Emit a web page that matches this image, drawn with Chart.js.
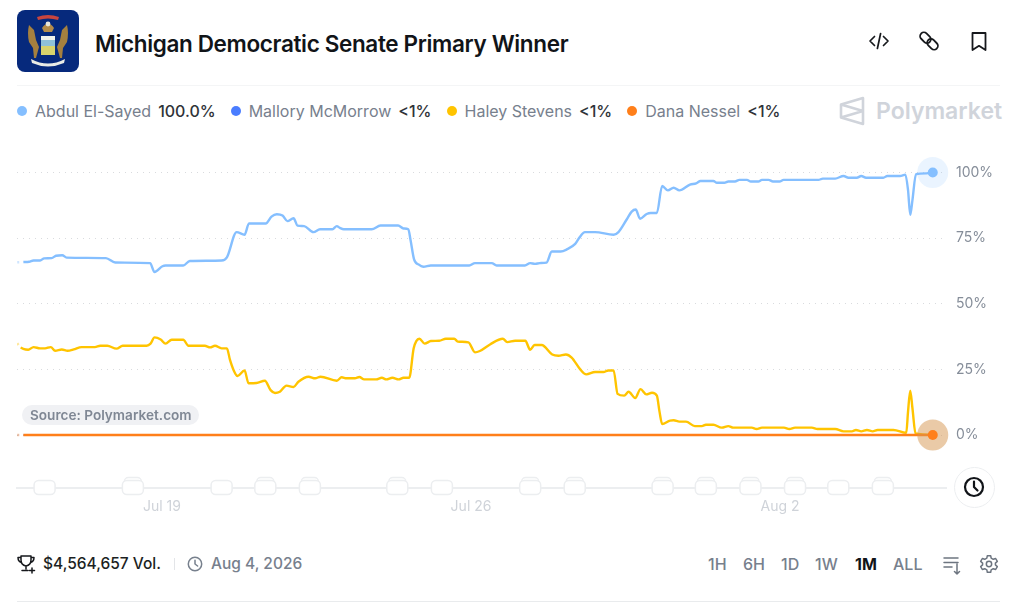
<!DOCTYPE html>
<html>
<head>
<meta charset="utf-8">
<title>Michigan Democratic Senate Primary Winner</title>
<script src="https://cdn.jsdelivr.net/npm/chart.js@4"></script>
<style>
html,body{margin:0;padding:0;background:#fff;}
body{width:1023px;height:603px;position:relative;overflow:hidden;font-family:Inter,sans-serif;}
.abs{position:absolute;white-space:nowrap;}
#title{left:95px;top:29px;font-size:22.5px;line-height:30px;font-weight:600;color:#111418;letter-spacing:-0.35px;}
#legend{left:17px;top:100px;height:22px;display:flex;align-items:center;font-size:16px;}
.item{display:flex;align-items:center;margin-right:15px;}
.dot{width:10px;height:10px;border-radius:50%;margin-right:8px;}
.name{color:#77808d;margin-right:7px;}
.val{color:#2f3338;font-weight:500;}
#brand{left:876px;top:95px;font-size:23px;line-height:32px;font-weight:600;color:#d0d4db;}
#source{left:22px;top:405px;height:20px;line-height:20px;padding:0 7px 0 8px;border-radius:10px;background:#f0f1f4;color:#7f8794;font-size:13.6px;font-weight:600;}
#clockBtn{left:954px;top:467px;width:39px;height:39px;border:1px solid #eceef0;border-radius:50%;background:#fff;box-sizing:content-box;}
.rule{left:17px;width:983px;height:1px;}
.foot{top:553px;line-height:22px;font-size:15.5px;}
.range{top:553px;line-height:22px;font-size:16px;font-weight:500;color:#77808d;}
canvas{position:absolute;left:0;top:130px;}
svg{position:absolute;}
</style>
</head>
<body>
<svg style="left:17px;top:10px" width="62" height="62" viewBox="0 0 62 62">
  <rect width="62" height="62" rx="8" fill="#06297c"/>
  <path d="M20 7q11-4 22 0l-1 3q-10-3-20 0z" fill="#c8453f"/>
  <path d="M25 18q6-9 12 0l-2 4h-8z" fill="#b58c4a"/>
  <circle cx="31" cy="14" r="2.4" fill="#e9e6da"/>
  <path d="M12 15l5 5 2 10 3 7-3 11h-2l-1-10-4-6q-2-9 0-17z" fill="#a5803f"/>
  <path d="M50 15l-5 5-2 10-3 7 3 11h2l1-10 4-6q2-9 0-17z" fill="#a5803f"/>
  <rect x="24" y="26" width="14" height="19" rx="2" fill="#8fc1d8"/>
  <rect x="24" y="36" width="14" height="9" fill="#d8d36c"/>
  <rect x="24" y="26" width="14" height="4" fill="#f1f2ec"/>
  <path d="M14 49q17 9 34 0l-1 4q-16 7-32 0z" fill="#e9ebe6"/>
</svg>
<div id="title" class="abs">Michigan Democratic Senate Primary Winner</div>

<svg style="left:868px;top:30px" width="22" height="22" viewBox="0 0 22 22" fill="none" stroke="#16181c" stroke-width="1.7" stroke-linecap="round" stroke-linejoin="round">
  <path d="M6.5 6.5 2 11l4.5 4.5M15.5 6.5 20 11l-4.5 4.5M12.6 3.5 9.4 18.5"/>
</svg>
<svg style="left:918px;top:30px" width="22" height="22" viewBox="0 0 22 22" fill="none" stroke="#16181c" stroke-width="1.8">
  <rect x="1.500" y="4" width="12" height="7.500" rx="3.700" transform="rotate(45 7.500 7.700)"/>
  <rect x="8.500" y="10.500" width="12" height="7.500" rx="3.700" transform="rotate(45 14.500 14.300)"/>
</svg>
<svg style="left:968px;top:30px" width="22" height="22" viewBox="0 0 22 22" fill="none" stroke="#16181c" stroke-width="1.8" stroke-linejoin="round">
  <path d="M4.5 3h13v17L11 15.800 4.500 20z"/>
</svg>
<div class="abs rule" style="top:85px;background:#f4f5f6"></div>

<div id="legend" class="abs"></div>
<svg style="left:839px;top:96px" width="26" height="30" viewBox="0 0 26 30" fill="none" stroke="#d0d4db" stroke-width="2.6" stroke-linejoin="round">
  <path d="M24 2v26L2 21.500V8.500zM2 8.500 24 15 2 21.500"/>
</svg>
<div id="brand" class="abs">Polymarket</div>

<canvas id="chart" width="1023" height="390"></canvas>

<div id="source" class="abs">Source: Polymarket.com</div>
<div id="clockBtn" class="abs"></div>
<svg style="left:962px;top:475px" width="24" height="24" viewBox="0 0 24 24" fill="none" stroke="#111418" stroke-width="2.2" stroke-linecap="round" stroke-linejoin="round">
  <circle cx="12" cy="12" r="9"/><path d="M12 6.500V12l3.500 3.500"/>
</svg>

<svg style="left:17px;top:554px" width="19" height="20" viewBox="0 0 19 20" fill="none" stroke="#16181c" stroke-width="1.5" stroke-linecap="round" stroke-linejoin="round">
  <path d="M4 2h10v4q0 5-5 6-5-1-5-6zM4 3.500H1q0 4 3.500 5M14 3.500h3q0 4-3.500 5M9 12v3M5 16.500h6M15 14v5M12.500 16.500h5"/>
</svg>
<div class="abs foot" style="left:43px;color:#1c1f23;font-weight:500">$4,564,657 Vol.</div>
<div class="abs" style="left:174px;top:558px;width:1px;height:12px;background:#e3e5e8"></div>
<svg style="left:187px;top:556px" width="16" height="16" viewBox="0 0 16 16" fill="none" stroke="#77808d" stroke-width="1.5" stroke-linecap="round" stroke-linejoin="round">
  <circle cx="8" cy="8" r="6.700"/><path d="M8 4.200V8l2.600 2"/>
</svg>
<div class="abs foot" style="left:211px;color:#77808d;font-weight:500">Aug 4, 2026</div>

<div class="abs range" style="left:708px">1H</div>
<div class="abs range" style="left:743px">6H</div>
<div class="abs range" style="left:781px">1D</div>
<div class="abs range" style="left:815px">1W</div>
<div class="abs range" style="left:855px;color:#111418;font-weight:700">1M</div>
<div class="abs range" style="left:893px">ALL</div>
<svg style="left:942px;top:555px" width="20" height="20" viewBox="0 0 20 20" fill="none" stroke="#6d7580" stroke-width="1.500" stroke-linecap="round" stroke-linejoin="round">
  <path d="M2 3h14M2 7.500h14M2 12h8M15 9v10M12.500 16.500 15 19l2.500-2.500"/>
</svg>
<svg style="left:979px;top:554px" width="20" height="20" viewBox="0 0 24 24" fill="none" stroke="#6d7580" stroke-width="1.800" stroke-linecap="round" stroke-linejoin="round">
  <circle cx="12" cy="12" r="3.200"/>
  <path d="M10 2h4l.6 3 2.500 1.400 2.900-1 2 3.500-2.300 2v2.200l2.300 2-2 3.500-2.900-1-2.500 1.400-.6 3h-4l-.6-3-2.500-1.400-2.900 1-2-3.500 2.300-2v-2.200l-2.300-2 2-3.500 2.900 1L9.400 5z"/>
</svg>
<div class="abs rule" style="top:601px;background:#e9ebed"></div>

<script>
// days counted from Jul 19, values in percent
const sayedDays=[-3.28,-3.14,-3.01,-2.91,-2.76,-2.67,-2.50,-2.40,-2.26,-2.16,-1.27,-1.06,-0.27,-0.17,0.01,0.08,0.48,0.63,1.35,1.47,1.69,1.87,1.97,2.35,2.48,2.60,2.73,2.84,2.98,3.07,3.22,3.43,3.58,3.86,3.96,4.03,4.12,4.75,4.95,5.35,5.47,5.58,5.63,5.71,5.81,5.92,6.09,6.96,7.09,7.47,7.58,8.22,8.34,8.45,8.56,8.71,8.83,9.03,9.17,9.36,9.46,9.58,9.81,10.23,10.34,10.53,10.64,10.73,10.83,10.98,11.07,11.21,11.33,11.46,11.59,11.72,11.96,12.10,12.20,12.49,12.57,12.74,12.83,12.98,13.08,13.25,13.34,13.51,13.59,13.74,13.84,13.99,14.08,14.87,14.97,15.25,15.44,15.55,15.74,15.84,15.95,16.34,16.43,16.72,16.84,16.90,16.95,17.00,17.08,17.32,17.46];
const sayedValues=[65.8,65.9,66.0,66.5,66.5,67.3,67.4,68.3,68.5,67.6,67.4,65.7,65.5,62.1,64.3,64.6,64.6,66.3,66.5,67.7,77.3,76.3,80.6,80.6,83.2,84.1,83.6,81.5,82.6,79.8,79.6,77.3,78.4,78.4,79.6,78.9,78.4,78.4,79.8,79.8,78.7,78.4,74.3,66.9,65.0,64.1,64.6,64.6,65.5,65.5,64.6,64.6,65.5,65.2,65.5,65.7,69.9,69.9,70.7,72.8,75.3,77.3,77.3,76.3,77.3,82.2,85.1,85.9,82.4,84.2,84.6,84.6,94.9,93.2,94.2,93.2,95.4,95.9,96.8,96.8,96.1,96.1,96.6,96.6,97.2,97.2,96.6,96.6,97.2,97.2,96.6,96.6,97.2,97.2,97.7,97.7,98.7,98.0,98.0,98.7,98.0,98.0,98.7,98.7,99.2,93.3,83.9,89.5,99.4,99.7,100];

const stevensDays=[-3.28,-3.20,-3.14,-3.03,-2.91,-2.76,-2.65,-2.52,-2.42,-2.27,-2.14,-2.00,-1.82,-1.52,-1.40,-1.24,-1.03,-0.89,-0.35,-0.26,-0.17,-0.03,0.08,0.22,0.48,0.60,0.97,1.09,1.20,1.35,1.47,1.54,1.62,1.71,1.87,1.96,2.14,2.33,2.46,2.56,2.67,2.82,2.98,3.09,3.32,3.47,3.59,3.96,4.07,4.18,4.37,4.47,4.58,4.85,4.98,5.08,5.22,5.36,5.47,5.60,5.70,5.76,5.83,5.95,6.09,6.28,6.43,6.62,6.70,6.94,7.09,7.20,7.43,7.72,7.82,8.00,8.23,8.34,8.44,8.60,8.84,8.98,9.15,9.28,9.47,9.61,9.81,10.00,10.11,10.23,10.32,10.47,10.57,10.72,10.84,10.97,11.10,11.21,11.27,11.33,11.51,11.59,11.72,11.87,12.07,12.23,12.32,12.49,12.68,12.83,12.94,13.36,13.47,13.59,14.09,14.21,14.34,14.72,14.85,15.25,15.44,15.63,15.72,15.84,15.97,16.10,16.21,16.57,16.86,16.90,16.95,17.00,17.07,17.46];
const stevensValues=[34.9,33.4,32.8,32.5,33.5,33.0,33.0,33.5,32.1,32.6,32.1,32.6,33.5,33.5,34.0,34.0,32.9,34.0,34.0,34.8,37.2,36.4,34.8,36.3,36.3,34.0,34.0,33.4,34.0,33.0,33.0,28.6,24.8,22.5,24.6,19.7,19.8,20.7,17.1,16.0,16.5,18.8,18.3,20.3,22.2,21.6,22.2,20.7,22.0,21.6,21.6,22.1,21.2,21.2,21.8,21.2,21.8,21.2,21.8,21.8,33.0,35.8,36.7,34.8,35.8,35.9,36.7,36.7,35.6,35.3,31.5,32.0,34.5,36.7,35.4,35.9,35.9,32.5,34.3,34.3,30.7,30.2,30.7,29.5,25.1,23.1,24.0,24.0,24.6,24.6,15.7,15.0,16.5,14.1,17.5,15.5,16.1,15.0,8.9,4.2,5.5,5.6,5.1,5.1,3.4,3.4,3.9,3.9,2.8,3.4,2.8,2.8,2.3,2.8,2.8,2.3,2.8,2.8,2.3,2.3,1.4,1.4,1.9,1.4,1.9,1.4,1.9,1.9,0.8,8.9,16.9,10.2,0.6,0.1];

const flatDays=[-3.28,-3.14,17.46];
const mcmorrowValues=[0,0,0];
const nesselValues=[0,0,0];

const xTicks=[0,7,14];
const xTickLabels=["Jul 19","Jul 26","Aug 2"];
const yTicks=[0,25,50,75,100];

// event markers on the timeline, stacked = two or more events
const markerDays=[-2.66,-0.66,1.35,2.34,3.35,5.33,6.34,8.34,9.35,11.34,12.32,13.33,14.34,15.32,16.33];
const markerStacked=[0,1,0,1,1,1,0,1,1,1,1,1,1,0,1];

const names=["Abdul El-Sayed","Mallory McMorrow","Haley Stevens","Dana Nessel"];
const shown=["100.0%","<1%","<1%","<1%"];
const colors=["#85bfff","#4a7dff","#ffc400","#ff7f1a"];

// legend
let legend=document.getElementById("legend");
names.forEach((n,i)=>{
  let div=document.createElement("div");
  div.className="item";
  div.innerHTML=`<span class="dot" style="background:${colors[i]}"></span><span class="name">${n}</span><span class="val"></span>`;
  div.querySelector(".val").textContent=shown[i];
  legend.appendChild(div);
});

function pts(xs,ys){ return xs.map((x,i)=>({x:x,y:ys[i]})); }

function fade(hex){ return hex+"66"; }

function makeSet(label,xs,ys,color,order,width){
  return {
    label:label,
    data:pts(xs,ys),
    borderColor:color,
    borderWidth:width,
    pointRadius:0,
    cubicInterpolationMode:'monotone',
    order:order,
    // first bit of the line is only a pale dotted start
    segment:{
      borderColor:c=>c.p0DataIndex===0?fade(color):undefined,
      borderDash:c=>c.p0DataIndex===0?[2,4]:undefined
    }
  };
}

const markers={
  id:'markers',
  beforeDatasetsDraw(chart){
    const {ctx,scales:{x,y}}=chart;
    const my=y.getPixelForValue(y.min);
    ctx.save();
    ctx.strokeStyle="#eceef0";
    ctx.fillStyle="#fff";
    ctx.lineWidth=1.5;
    markerDays.forEach((d,i)=>{
      const mx=x.getPixelForValue(d);
      if(markerStacked[i]){
        ctx.beginPath();
        ctx.roundRect(mx-8.5,my-10,17,12,4);
        ctx.fill(); ctx.stroke();
      }
      ctx.beginPath();
      ctx.roundRect(mx-10.5,my-7,21,14,4.5);
      ctx.fill(); ctx.stroke();
    });
    ctx.restore();
  }
};

const endDots={
  id:'endDots',
  afterDatasetsDraw(chart){
    const {ctx}=chart;
    [[0,"rgba(133,191,255,0.17)"],[3,"rgba(214,150,80,0.5)"]].forEach(([idx,halo])=>{
      const pt=chart.getDatasetMeta(idx).data.at(-1);
      ctx.save();
      ctx.fillStyle=halo;
      ctx.beginPath(); ctx.arc(pt.x,pt.y,15.5,0,Math.PI*2); ctx.fill();
      ctx.fillStyle=colors[idx];
      ctx.beginPath(); ctx.arc(pt.x,pt.y,5,0,Math.PI*2); ctx.fill();
      ctx.restore();
    });
  }
};

new Chart(document.getElementById("chart").getContext("2d"),{
  type:'line',
  data:{datasets:[
    makeSet(names[0],sayedDays,sayedValues,colors[0],1,2.4),
    makeSet(names[1],flatDays,mcmorrowValues,colors[1],3,1),
    makeSet(names[2],stevensDays,stevensValues,colors[2],2,2.4),
    makeSet(names[3],flatDays,nesselValues,colors[3],0,2.4)
  ]},
  options:{
    responsive:false,
    animation:false,
    layout:{padding:{left:17,top:16.3,right:0,bottom:0}},
    plugins:{legend:{display:false},tooltip:{enabled:false}},
    scales:{
      x:{
        type:'linear',
        min:-3.285,
        max:17.76,
        afterFit(s){ s.height=32.5; s.paddingLeft=0; s.paddingRight=0; },
        afterBuildTicks(s){ s.ticks=xTicks.map(v=>({value:v})); },
        grid:{display:false},
        border:{color:"#eceef0",width:2},
        ticks:{
          autoSkip:false,maxRotation:0,padding:3,
          color:"#cfd3d9",font:{family:"Inter",size:14},
          callback:v=>xTickLabels[xTicks.indexOf(v)]
        }
      },
      y:{
        position:'right',
        min:-20,
        max:110,
        afterFit(s){ s.width=77; s.paddingTop=0; s.paddingBottom=0; },
        afterBuildTicks(s){ s.ticks=yTicks.map(v=>({value:v})); },
        grid:{color:"#d9dbde",drawTicks:false},
        border:{display:false,dash:[1,5]},
        ticks:{
          padding:10,
          color:"#858d99",font:{family:"Inter",size:14},
          callback:v=>v+"%"
        }
      }
    }
  },
  plugins:[markers,endDots]
});
</script>
</body>
</html>
